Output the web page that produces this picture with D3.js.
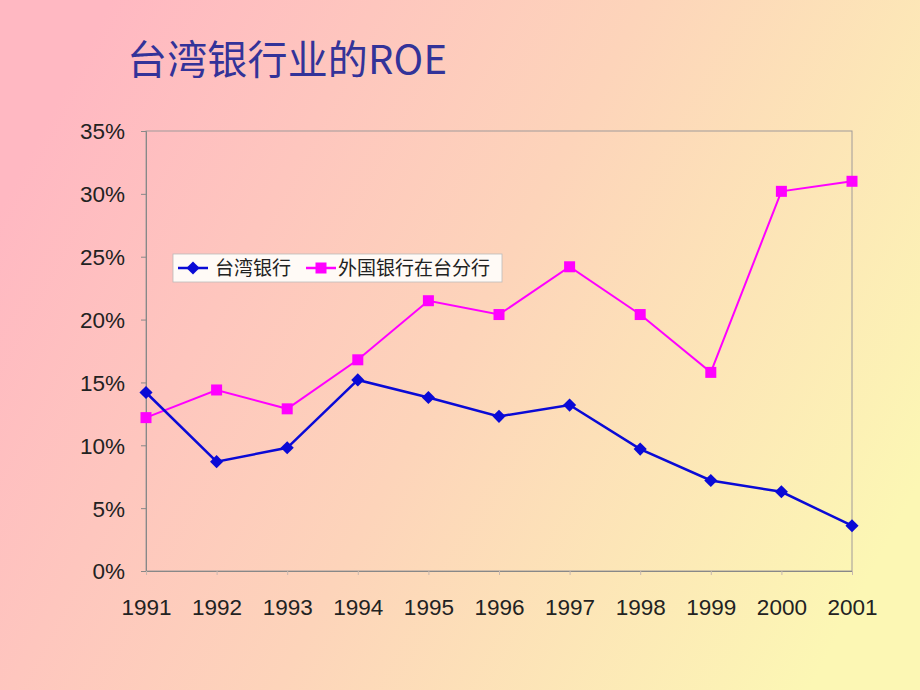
<!DOCTYPE html>
<html>
<head>
<meta charset="utf-8">
<script src="https://cdn.jsdelivr.net/npm/d3@7"></script>
<style>
    body { margin: 0; }
    svg text { font-family: "Liberation Sans", Arial, sans-serif; }
</style>
</head>
<body>
<div id="chart"></div>
<script>
// Chart data
const years = ['1991', '1992', '1993', '1994', '1995', '1996', '1997', '1998', '1999', '2000', '2001'];
const taiwanBanks = [14.2, 8.7, 9.8, 15.2, 13.8, 12.3, 13.2, 9.7, 7.2, 6.3, 3.6];
const foreignBranches = [12.2, 14.4, 12.9, 16.8, 21.5, 20.4, 24.2, 20.4, 15.8, 30.2, 31.0];
const yTicks = [0, 5, 10, 15, 20, 25, 30, 35];
const seriesNames = ['台湾银行', '外国银行在台分行'];

const width = 920, height = 690;
const plot = {left: 146, right: 852, top: 131, bottom: 571};

const svg = d3.select('#chart')
    .append('svg')
    .attr('width', width)
    .attr('height', height);

// Background gradient, pink to pale yellow
const grad = svg.append('defs')
    .append('linearGradient')
    .attr('id', 'bg')
    .attr('x1', '0%').attr('y1', '30%')
    .attr('x2', '100%').attr('y2', '70%');
grad.append('stop').attr('offset', '0%').attr('stop-color', '#ffb8c2');
grad.append('stop').attr('offset', '50%').attr('stop-color', '#fdd4ba');
grad.append('stop').attr('offset', '100%').attr('stop-color', '#fcf7b4');

svg.append('rect')
    .attr('width', width)
    .attr('height', height)
    .attr('fill', 'url(#bg)');

// Title
svg.append('text')
    .attr('x', 127)
    .attr('y', 74)
    .attr('fill', '#333399')
    .attr('textLength', 320)
    .style('font-family', '"Noto Sans CJK SC", "Liberation Sans", sans-serif')
    .style('font-size', '40px')
    .text('台湾银行业的ROE');

const x = d3.scalePoint()
    .domain(years)
    .range([plot.left, plot.right]);

const y = d3.scaleLinear()
    .domain([0, 35])
    .range([plot.bottom, plot.top]);

// Plot frame
svg.append('rect')
    .attr('x', plot.left)
    .attr('y', plot.top)
    .attr('width', plot.right - plot.left)
    .attr('height', plot.bottom - plot.top)
    .attr('fill', 'none')
    .attr('stroke', '#a09a9a')
    .attr('stroke-width', 1);

// Y axis
const yAxis = svg.append('g')
    .attr('transform', `translate(${plot.left},0)`)
    .call(d3.axisLeft(y).tickValues(yTicks).tickSize(5).tickPadding(16).tickFormat(d => d + '%'));
yAxis.select('.domain').attr('stroke', '#888');
yAxis.selectAll('.tick line').attr('stroke', '#888');
yAxis.selectAll('text')
    .attr('fill', '#222')
    .style('font-size', '22.5px')
    .attr('dy', '0.35em');

// X axis
const xAxis = svg.append('g')
    .attr('transform', `translate(0,${plot.bottom})`)
    .call(d3.axisBottom(x).tickSize(4).tickPadding(24));
xAxis.select('.domain').attr('stroke', '#888');
xAxis.selectAll('.tick line').attr('stroke', '#c8b8b0');
xAxis.selectAll('text')
    .attr('fill', '#222')
    .style('font-size', '22.5px');

const line = d3.line()
    .x((d, i) => x(years[i]))
    .y(d => y(d));

// Foreign branches series (magenta, squares)
svg.append('path')
    .datum(foreignBranches)
    .attr('d', line)
    .attr('fill', 'none')
    .attr('stroke', '#ff00ff')
    .attr('stroke-width', 2);

svg.selectAll('.sq')
    .data(foreignBranches)
    .enter()
    .append('rect')
    .attr('class', 'sq')
    .attr('x', (d, i) => x(years[i]) - 5.5)
    .attr('y', d => y(d) - 5.5)
    .attr('width', 11)
    .attr('height', 11)
    .attr('fill', '#ff00ff');

// Taiwan banks series (blue, diamonds)
svg.append('path')
    .datum(taiwanBanks)
    .attr('d', line)
    .attr('fill', 'none')
    .attr('stroke', '#0a0ad6')
    .attr('stroke-width', 2.5);

const diamond = d3.symbol().type(d3.symbolDiamond2).size(110);
svg.selectAll('.dm')
    .data(taiwanBanks)
    .enter()
    .append('path')
    .attr('class', 'dm')
    .attr('d', diamond)
    .attr('transform', (d, i) => `translate(${x(years[i])},${y(d)})`)
    .attr('fill', '#0a0ad6');

// Legend
const legend = svg.append('g').attr('transform', 'translate(173,254)');
legend.append('rect')
    .attr('width', 329)
    .attr('height', 28)
    .attr('fill', '#fffaf6')
    .attr('stroke', '#bbb')
    .attr('stroke-width', 0.8);

const legendItems = [
    {name: seriesNames[0], color: '#0a0ad6', shape: 'diamond', x: 5, textX: 42},
    {name: seriesNames[1], color: '#ff00ff', shape: 'square', x: 133, textX: 165}
];
legendItems.forEach(item => {
    legend.append('line')
        .attr('x1', item.x).attr('x2', item.x + 30)
        .attr('y1', 14).attr('y2', 14)
        .attr('stroke', item.color)
        .attr('stroke-width', 2.5);
    if (item.shape === 'diamond') {
        legend.append('path')
            .attr('d', diamond)
            .attr('transform', `translate(${item.x + 15},14)`)
            .attr('fill', item.color);
    } else {
        legend.append('rect')
            .attr('x', item.x + 9.5).attr('y', 8.5)
            .attr('width', 11).attr('height', 11)
            .attr('fill', item.color);
    }
    legend.append('text')
        .attr('x', item.textX)
        .attr('y', 21)
        .attr('fill', '#222')
        .style('font-family', '"Noto Sans CJK SC", sans-serif')
        .style('font-size', '19px')
        .text(item.name);
});
</script>
</body>
</html>
